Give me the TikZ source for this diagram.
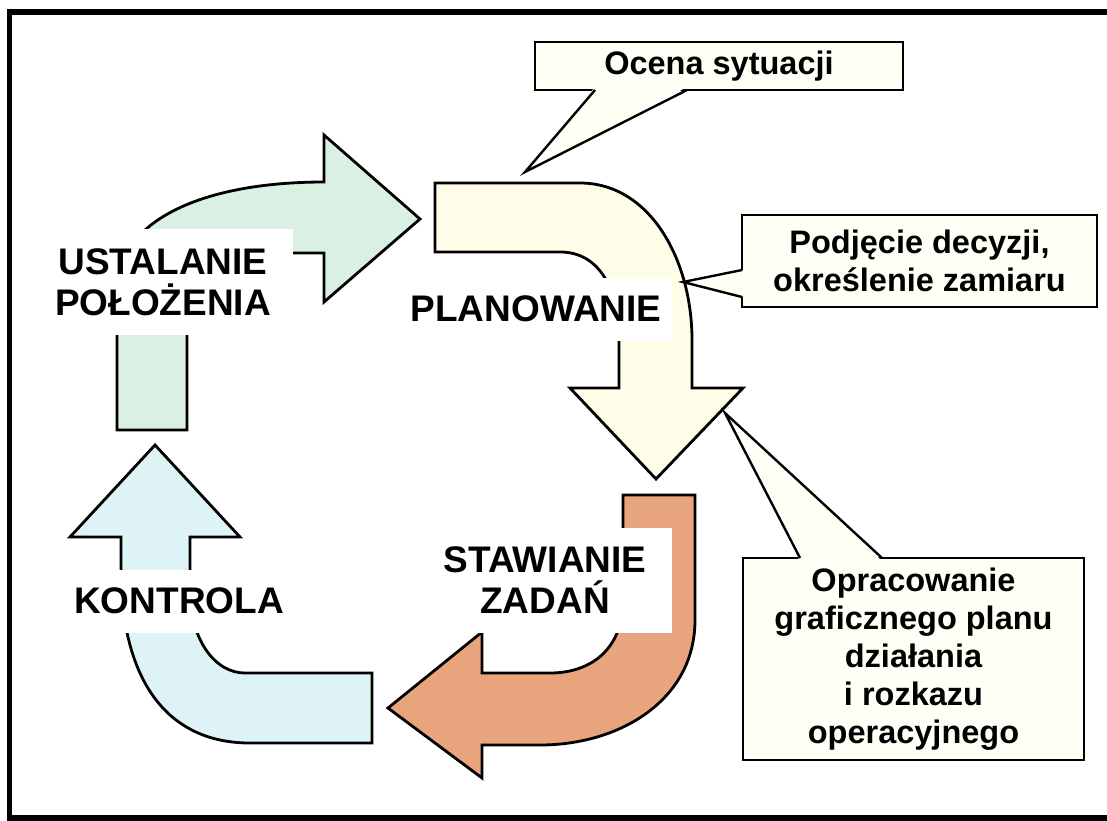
\documentclass[tikz,border=0pt]{standalone}
\usepackage{fontspec}
\setmainfont{Liberation Sans}
\usetikzlibrary{calc}

\definecolor{ustalgreen}{RGB}{217,240,226}
\definecolor{planyellow}{RGB}{255,253,232}
\definecolor{zadorange}{RGB}{232,165,125}
\definecolor{kontrblue}{RGB}{222,243,245}
\definecolor{notefill}{RGB}{255,255,246}

\begin{document}
\begin{tikzpicture}[x=1pt,y=-1pt,
	arrowshape/.style={draw,line width=2.8pt,line join=miter},
	cutlabel/.style={fill=white,inner sep=0pt,align=center,font=\bfseries\fontsize{37}{41}\selectfont},
	notebox/.style={draw,line width=2.4pt,fill=notefill,inner sep=0pt,outer sep=0pt,align=center,font=\bfseries\fontsize{32.5}{38}\selectfont},
	noteline/.style={line width=2.4pt,line join=miter}]
	\useasboundingbox (0,0) rectangle (1107,820);
	% frame
	\draw[line width=5.5pt] (9.5,12) rectangle (1115,818);
	% the four arrows of the cycle
	\draw[arrowshape,fill=ustalgreen] (117,430) -- (117,290) .. controls (117,222) and (200,182) .. (324,182) -- (324,135) -- (420,219) -- (324,302) -- (324,253) -- (262,253) .. controls (215,253) and (187,290) .. (187,335) -- (187,430) -- cycle;
	\draw[arrowshape,fill=planyellow] (435,183) -- (580,183) .. controls (650,183) and (692,260) .. (692,340) -- (692,388) -- (743,388) -- (656,479) -- (570,388) -- (619,388) -- (619,340) .. controls (619,290) and (600,252) .. (560,252) -- (435,252) -- cycle;
	\draw[arrowshape,fill=zadorange] (623,495) -- (695,495) -- (695,620) .. controls (695,700) and (620,745) .. (540,745) -- (482,745) -- (482,778) -- (388,708) -- (482,632) -- (482,673) -- (550,673) .. controls (590,673) and (623,650) .. (623,600) -- cycle;
	\draw[arrowshape,fill=kontrblue] (372,673) -- (372,743) -- (250,743) .. controls (160,743) and (121,670) .. (121,570) -- (121,537) -- (70,537) -- (155,445) -- (240,537) -- (190,537) -- (190,590) .. controls (190,640) and (215,673) .. (245,673) -- cycle;
	% stage names
	\node[cutlabel,minimum width=260,minimum height=106] (ustal) at (163,282) {USTALANIE\\POŁOŻENIA};
	\node[cutlabel,minimum width=272,minimum height=63] (plan) at (536,309) {PLANOWANIE};
	\node[cutlabel,minimum width=240,minimum height=63] (kontr) at (179,601) {KONTROLA};
	\node[cutlabel,minimum width=254,minimum height=105] (zadan) at (545,580) {STAWIANIE\\ZADAŃ};
	% callouts
	\node[notebox,minimum width=368,minimum height=48] (ocena) at (719,66) {Ocena sytuacji};
	\coordinate (ocenatip) at (525,172);
	\fill[notefill] ($(ocena.south west)+(60,-3)$) -- (ocenatip) -- ($(ocena.south west)+(152,-3)$) -- cycle;
	\draw[noteline] ($(ocena.south west)+(60,0)$) -- (ocenatip) -- ($(ocena.south west)+(152,0)$);
	\node[notebox,minimum width=355,minimum height=92] (decyzja) at (919.5,261) {Podjęcie decyzji,\\określenie zamiaru};
	\coordinate (decyzjatip) at (683,282);
	\fill[notefill] ($(decyzja.north west)+(3,55)$) -- (decyzjatip) -- ($(decyzja.north west)+(3,82)$) -- cycle;
	\draw[noteline] ($(decyzja.north west)+(0,55)$) -- (decyzjatip) -- ($(decyzja.north west)+(0,82)$);
	\node[notebox,minimum width=341,minimum height=202] (rozkaz) at (913.5,659) {Opracowanie\\graficznego planu\\działania\\i rozkazu\\operacyjnego};
	\coordinate (rozkaztip) at (725,413);
	\fill[notefill] ($(rozkaz.north west)+(57,3)$) -- (rozkaztip) -- ($(rozkaz.north west)+(139,3)$) -- cycle;
	\draw[noteline] ($(rozkaz.north west)+(57,0)$) -- (rozkaztip) -- ($(rozkaz.north west)+(139,0)$);
\end{tikzpicture}
\end{document}
